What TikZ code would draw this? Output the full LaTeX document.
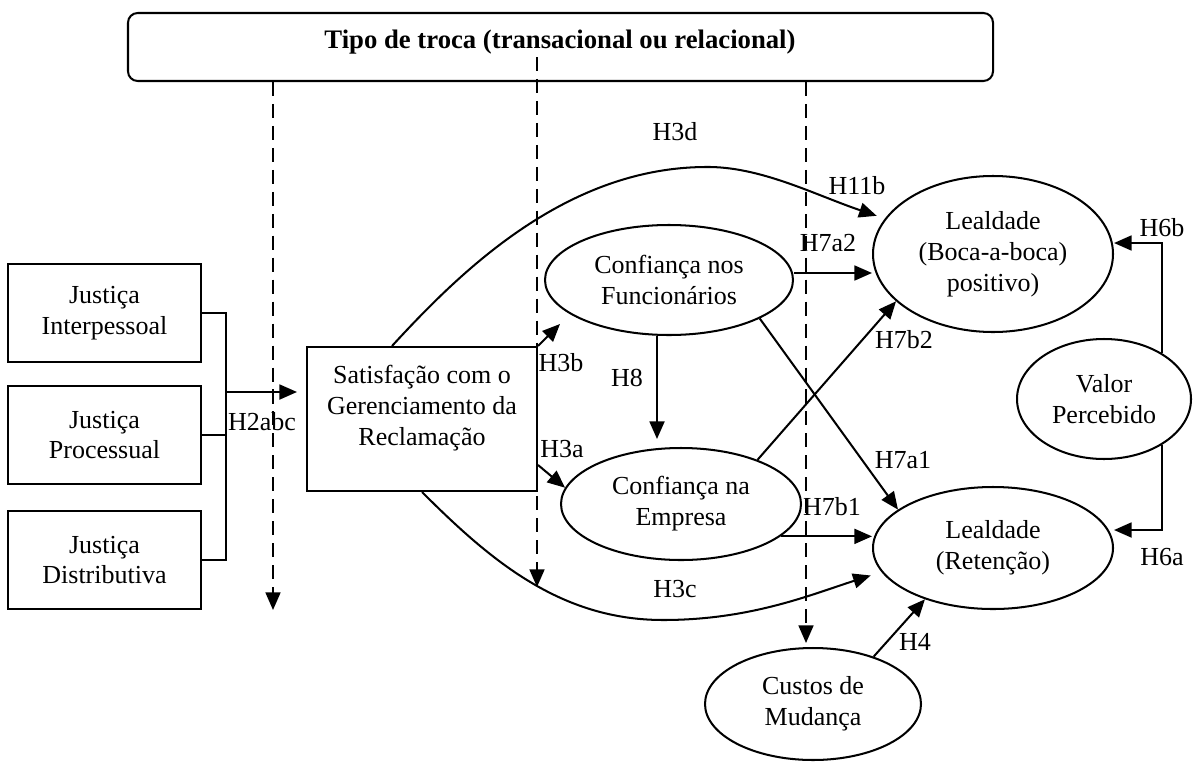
\documentclass[tikz,border=0pt]{standalone}
\usepackage{fontspec}
\setmainfont{Liberation Serif}
\usetikzlibrary{arrows.meta,shapes.geometric,calc}
\newcommand\pxu{0.02cm}
\newcommand\dfont{\fontsize{14.8pt}{17.6pt}\selectfont}
\begin{document}
\begin{tikzpicture}[x=0.02cm,y=-0.02cm,font=\dfont,
  ln/.style={line width=1.15pt},
  arr/.style={line width=1.15pt,-{Triangle[length=10pt,width=8.5pt]}},
  dasharr/.style={line width=1pt,dash pattern=on 8pt off 4.5pt,-{Triangle[length=10pt,width=8.5pt]}},
  box/.style={draw,line width=1.15pt,rectangle,inner sep=0pt,align=center},
  ell/.style={draw,line width=1.15pt,ellipse,inner sep=0pt,align=center},
  lbl/.style={inner sep=0pt}]
\useasboundingbox (0,0) rectangle (1193,764);

% top box
\node[box,rounded corners=5.5pt,minimum width=865*\pxu,minimum height=68*\pxu] (top) at (560.5,47) {};
\node[lbl,font=\fontsize{15.2pt}{18pt}\selectfont\bfseries] (title) at (560,42) {Tipo de troca (transacional ou relacional)};

% left boxes
\node[box,minimum width=193*\pxu,minimum height=98*\pxu] (j1) at (104.5,313) {Justiça\\Interpessoal};
\node[box,minimum width=193*\pxu,minimum height=98*\pxu] (j2) at (104.5,435) {Justiça\\Processual};
\node[box,minimum width=193*\pxu,minimum height=98*\pxu] (j3) at (104.5,560) {Justiça\\Distributiva};

% satisfaction box
\node[box,minimum width=230*\pxu,minimum height=144*\pxu] (sat) at (422,419) {};
\node[lbl,align=center] (sattxt) at (422,408) {Satisfação com o\\Gerenciamento da\\Reclamação};

% ellipses
\node[ell,minimum width=248*\pxu,minimum height=110*\pxu] (func) at (669,280) {Confiança nos\\Funcionários};
\node[ell,minimum width=240*\pxu,minimum height=112*\pxu] (emp) at (681,504) {Confiança na\\Empresa};
\node[ell,minimum width=240*\pxu,minimum height=156*\pxu] (boca) at (993,254) {Lealdade\\(Boca-a-boca)\\positivo)};
\node[ell,minimum width=240*\pxu,minimum height=122*\pxu] (ret) at (993,548) {Lealdade\\(Retenção)};
\node[ell,minimum width=174*\pxu,minimum height=120*\pxu] (valor) at (1104,399) {Valor\\Percebido};
\node[ell,minimum width=216*\pxu,minimum height=112*\pxu] (cust) at (813,704) {Custos de\\Mudança};

% bracket
\draw[ln] (j1.east) -- ++(24,0) coordinate (bk1) -- (bk1 |- j3.east) -- (j3.east);
\draw[ln] (j2.east) -- (j2.east -| bk1);
\coordinate (brk) at (225,392);
\coordinate (h2tip) at (297,392);
\draw[arr] (brk) -- (h2tip);

% dashed arrows
\coordinate (d1e) at (273,610);
\draw[dasharr] (top.south -| d1e) -- (d1e);
\coordinate (d2s) at (537,57);
\coordinate (d2e) at (537,587);
\draw[dasharr] (d2s) -- (d2e);
\coordinate (d3e) at (806,643);
\draw[dasharr] (top.south -| d3e) -- (d3e);

% connectors
\coordinate (h3btip) at (560,324);
\draw[arr] (sat.north east) -- (h3btip);
\draw[arr] ($(sat.east)+(0,46)$) -- (emp.172);
\draw[arr] ($(func.south)+(-12,0)$) -- ($(emp.north)+(-24,-8)$);
\coordinate (h7a2s) at ($(func.east)+(0,-7)$);
\draw[arr] (h7a2s) -- (h7a2s -| boca.west);
\draw[arr] (func.-23) -- (ret.158);
\draw[arr] (emp.30) -- (boca.206);
\coordinate (h7b1s) at (emp.-18);
\draw[arr] (h7b1s) -- (h7b1s -| ret.west);
\draw[arr] (sat.south) .. controls (490,560) and (560,620) .. (663,620) .. controls (750,620) and (810,595) .. ($(ret.193)+(-12,2)$);
\draw[arr] ($(sat.north)+(-30,0)$) .. controls (460,272) and (565,168) .. (705,167) .. controls (760,166) and (815,195) .. ($(boca.162)+(-8,-3)$);
\draw[arr] (cust.38) -- (ret.217);
\draw[arr] (valor.38) |- ($(boca.east)+(0,-11)$);
\draw[arr] (valor.-38) |- ($(ret.east)+(0,-18)$);

% labels
\node[lbl] (lH2) at (262,422) {H2abc};
\node[lbl] (lH3d) at (675,132) {H3d};
\node[lbl] (lH11b) at (857,186) {H11b};
\node[lbl] (lH7a2) at (828,243) {H7a2};
\node[lbl] (lH7b2) at (904,340) {H7b2};
\node[lbl] (lH7a1) at (903,460) {H7a1};
\node[lbl] (lH7b1) at (832,507) {H7b1};
\node[lbl] (lH6b) at (1162,228) {H6b};
\node[lbl] (lH6a) at (1162,557) {H6a};
\node[lbl] (lH3b) at (561,363) {H3b};
\node[lbl] (lH8) at (627,378) {H8};
\node[lbl] (lH3a) at (562,449) {H3a};
\node[lbl] (lH3c) at (675,589) {H3c};
\node[lbl] (lH4) at (915,642) {H4};
\end{tikzpicture}
\end{document}
